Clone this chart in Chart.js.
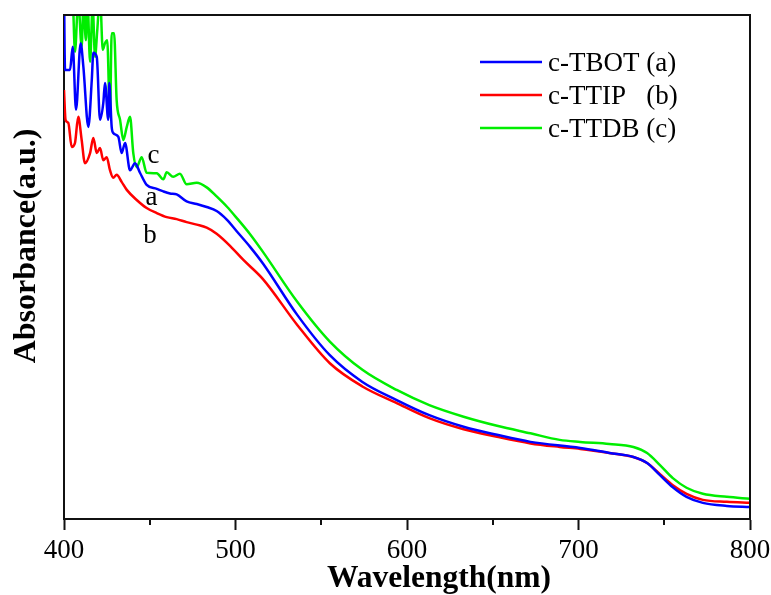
<!DOCTYPE html>
<html>
<head>
<meta charset="utf-8">
<script src="https://cdn.jsdelivr.net/npm/chart.js@4.4.0/dist/chart.umd.min.js"></script>
<style>
  html, body { margin: 0; padding: 0; background: #fff; }
  #wrap { width: 771px; height: 595px; }
</style>
</head>
<body>
<div id="wrap"><canvas id="chart"></canvas></div>
<script>
// data (wavelength in nm, absorbance in arbitrary units)
const labels = ['c-TBOT (a)', 'c-TTIP   (b)', 'c-TTDB (c)']
const colors = ['#0000ff', '#ff0000', '#00ee00']

const wlA = [400, 400.6, 403.5, 405.1, 407.0, 409.7, 411.3, 414.2, 416.2, 417.1, 419.1, 421.0, 422.9, 423.9, 425.8, 426.4, 427.8, 428.7, 431.7, 433.6, 435.6, 438.5, 441.4, 444.3, 448.2, 454.1, 457.9, 461.8, 465.7, 471.5, 477.4, 483.2, 489.0, 494.9, 500.7, 508.5, 516, 536, 555, 574, 594, 613, 633, 652.5, 672, 701, 718, 732, 740, 747.5, 755, 763, 772.5, 786.5, 800]
const absA = [1.05, 0.891, 0.891, 0.937, 0.812, 0.944, 0.897, 0.778, 0.871, 0.925, 0.917, 0.792, 0.825, 0.865, 0.792, 0.865, 0.778, 0.766, 0.758, 0.726, 0.746, 0.692, 0.706, 0.687, 0.663, 0.655, 0.650, 0.646, 0.644, 0.630, 0.625, 0.619, 0.611, 0.594, 0.571, 0.540, 0.507, 0.405, 0.325, 0.272, 0.236, 0.206, 0.183, 0.167, 0.153, 0.141, 0.131, 0.123, 0.111, 0.087, 0.063, 0.044, 0.032, 0.026, 0.024]

const wlB = [400, 400.9, 402.5, 404.5, 406.4, 408.3, 410.3, 412.2, 415.2, 417.1, 419.1, 421.0, 422.9, 424.9, 426.8, 428.7, 430.7, 433.6, 436.6, 442.4, 448.2, 454.1, 459.9, 465.7, 471.5, 477.4, 483.2, 489.0, 496.8, 504.6, 516, 536, 555, 574, 594, 613, 633, 652.5, 672, 689, 701, 718, 732, 740, 747.5, 755, 763, 772.5, 786.5, 800]
const absB = [0.851, 0.792, 0.786, 0.738, 0.746, 0.798, 0.752, 0.706, 0.726, 0.756, 0.726, 0.736, 0.712, 0.718, 0.692, 0.677, 0.683, 0.669, 0.653, 0.633, 0.617, 0.607, 0.599, 0.595, 0.589, 0.584, 0.578, 0.566, 0.542, 0.514, 0.476, 0.385, 0.309, 0.263, 0.230, 0.200, 0.178, 0.163, 0.150, 0.143, 0.139, 0.131, 0.123, 0.111, 0.089, 0.067, 0.050, 0.038, 0.034, 0.032]

const wlC = [400, 405.1, 406.4, 408.3, 410.3, 411.3, 412.8, 413.6, 415.2, 416.7, 418.1, 419.4, 421.0, 422.6, 423.9, 425.2, 426.8, 427.8, 429.2, 430.7, 432.7, 434.6, 436.6, 438.5, 440.4, 442.4, 445.3, 448.2, 454.1, 457.9, 459.9, 463.7, 467.6, 471.5, 477.4, 483.2, 489.0, 494.9, 501, 508.5, 516, 536, 555, 574, 594, 613, 633, 652.5, 672, 689, 701, 718, 732, 740, 747.5, 755, 763, 772.5, 786.5, 800]
const absC = [1.08, 1.03, 0.927, 1.03, 0.937, 1.02, 0.950, 1.04, 0.907, 1.02, 0.917, 0.970, 1.04, 0.931, 0.944, 0.950, 0.798, 0.964, 0.964, 0.831, 0.792, 0.752, 0.778, 0.798, 0.726, 0.698, 0.718, 0.687, 0.686, 0.674, 0.688, 0.679, 0.685, 0.664, 0.667, 0.658, 0.640, 0.620, 0.596, 0.565, 0.530, 0.431, 0.352, 0.296, 0.256, 0.226, 0.203, 0.185, 0.170, 0.157, 0.153, 0.149, 0.143, 0.131, 0.107, 0.081, 0.062, 0.050, 0.044, 0.040]

// letters written next to the curves
const tagText = ['a', 'b', 'c']
const tagWl = [451.0, 450.1, 452.2]
const tagAbs = [0.623, 0.548, 0.706]

const xTicks = [400, 500, 600, 700, 800]
const xMinorTicks = [450, 550, 650, 750]

const serif = "'Liberation Serif', 'Times New Roman', serif"

function toPoints(xs, ys) {
  return xs.map((x, i) => ({ x: x, y: ys[i] }))
}

// frame, minor ticks, legend, curve letters and axis titles
const extras = {
  id: 'extras',
  afterDraw(chart) {
    const ctx = chart.ctx
    const area = chart.chartArea
    const xs = chart.scales.x
    const ys = chart.scales.y
    ctx.save()
    ctx.strokeStyle = '#111'
    ctx.lineWidth = 2
    ctx.beginPath()
    ctx.moveTo(area.left, area.top)
    ctx.lineTo(area.right, area.top)
    ctx.lineTo(area.right, area.bottom)
    ctx.stroke()

    // minor ticks
    xMinorTicks.forEach((v) => {
      const px = Math.round(xs.getPixelForValue(v))
      ctx.beginPath()
      ctx.moveTo(px, area.bottom)
      ctx.lineTo(px, area.bottom + 6)
      ctx.stroke()
    })

    // legend
    ctx.font = '27px ' + serif
    ctx.fillStyle = '#000'
    ctx.textAlign = 'left'
    ctx.textBaseline = 'alphabetic'
    chart.data.datasets.forEach((ds, i) => {
      const ly = area.top + 47 + i * 33
      ctx.strokeStyle = ds.borderColor
      ctx.lineWidth = 2.5
      ctx.beginPath()
      ctx.moveTo(area.right - 270, ly)
      ctx.lineTo(area.right - 208, ly)
      ctx.stroke()
      ctx.fillText(ds.label, area.right - 202, ly + 9)
    })

    // curve letters
    ctx.textAlign = 'center'
    tagText.forEach((t, i) => {
      ctx.fillText(t, xs.getPixelForValue(tagWl[i]), ys.getPixelForValue(tagAbs[i]))
    })

    // axis titles
    ctx.font = 'bold 31.5px ' + serif
    ctx.fillText('Wavelength(nm)', area.left + 375, 587)
    ctx.translate(35, area.top + 231)
    ctx.rotate(-Math.PI / 2)
    ctx.font = 'bold 32px ' + serif
    ctx.fillText('Absorbance(a.u.)', 0, 0)
    ctx.restore()
  },
}

const datasets = [
  { label: labels[0], data: toPoints(wlA, absA), borderColor: colors[0] },
  { label: labels[1], data: toPoints(wlB, absB), borderColor: colors[1] },
  { label: labels[2], data: toPoints(wlC, absC), borderColor: colors[2] },
].map((d) => Object.assign(d, {
  borderWidth: 2.5,
  pointRadius: 0,
  fill: false,
  cubicInterpolationMode: 'monotone',
}))

new Chart(document.getElementById('chart'), {
  type: 'line',
  data: { datasets: datasets },
  options: {
    responsive: true,
    maintainAspectRatio: false,
    animation: false,
    layout: { padding: { top: 15, right: 21, left: 0, bottom: 0 } },
    plugins: {
      legend: { display: false },
      tooltip: { enabled: false },
    },
    scales: {
      x: {
        type: 'linear',
        min: 400,
        max: 800,
        afterBuildTicks: (scale) => {
          scale.ticks = xTicks.map((v) => ({ value: v }))
        },
        afterFit: (scale) => {
          scale.height = 76
          scale.paddingLeft = 0
          scale.paddingRight = 0
        },
        grid: { drawOnChartArea: false, drawTicks: true, tickLength: 11, tickColor: '#111', tickWidth: 2 },
        border: { display: true, color: '#111', width: 2 },
        ticks: {
          color: '#000',
          padding: 5,
          maxRotation: 0,
          font: { family: serif, size: 27 },
        },
      },
      y: {
        min: 0,
        max: 1,
        afterFit: (scale) => { scale.width = 64 },
        grid: { display: false },
        border: { display: true, color: '#111', width: 2 },
        ticks: { display: false },
      },
    },
  },
  plugins: [extras],
})
</script>
</body>
</html>
